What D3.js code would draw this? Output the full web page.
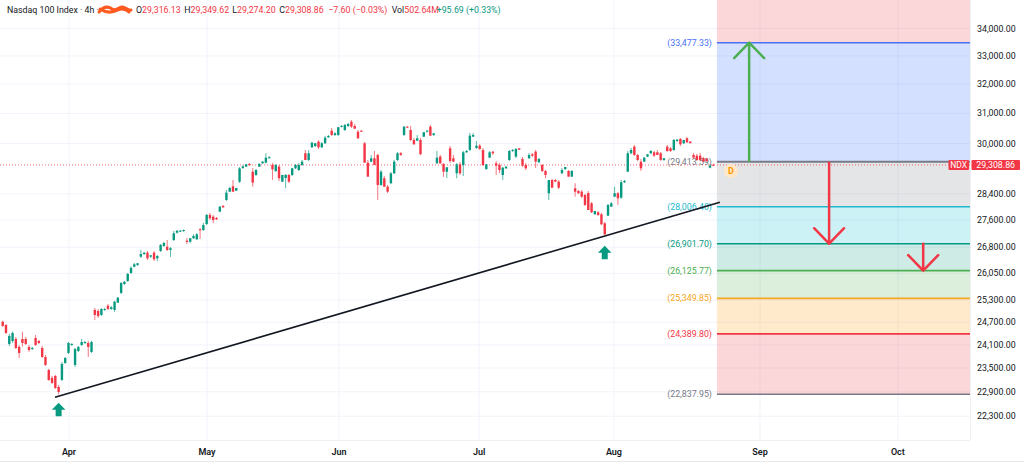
<!DOCTYPE html>
<html><head><meta charset="utf-8">
<script src="https://cdn.jsdelivr.net/npm/d3@7"></script>
<style>
html,body{margin:0;padding:0;background:#fff;}
svg{display:block;font-family:Roboto,"Noto Sans",sans-serif;}
</style></head><body>
<svg id="chart" width="1024" height="470"></svg>
<script>
// ---- candle data (4h bars) ----
const opens = [
24715,24627,24123,24202,24254,24045,24254,24254,24045,23992,
24281,24202,24018,23785,23451,23248,23299,23021,23197,23630,
23888,24097,23579,23940,24097,24149,24149,23914,25032,25005,
24897,25032,25150,25059,25032,25232,25499,25750,25834,26060,
26239,26288,26526,26604,26642,26526,26642,26479,26691,26837,
26816,26720,27012,27227,27257,27278,26992,26962,27062,27032,
27327,27307,27486,27757,27706,27666,27857,28030,28213,28469,
28636,28500,28781,29212,29254,29340,29095,28991,29254,29362,
29382,29542,29308,29117,29254,28781,28897,28991,28991,29202,
29148,29308,29684,29468,29878,29920,30061,29878,30008,30205,
30422,30281,30281,30555,30445,30578,30721,30578,30389,30422,
30008,29382,29414,29522,29629,28678,28887,28625,28731,29043,
29468,29684,30281,30555,30445,30116,30093,30116,30225,30389,
30555,30281,29362,29575,29340,29095,29845,29522,29043,29330,
29308,29716,29790,30225,29855,29930,29790,29180,29542,29736,
29362,29308,28991,29202,29468,29758,29575,29845,29500,29308,
29522,29652,29736,29394,29308,29117,28420,28834,28834,28781,
29043,29180,29117,28939,28575,28491,28469,28368,28429,28112,
27778,27838,27778,27507,27736,28010,28315,28420,28284,28762,
29095,29684,29898,29629,29414,29414,29575,29684,29716,29716,
29684,29468,29898,29845,29790,30084,30149,30008,30172,30061,
29629,29606,29606,29522,29500,29222,29316.13];
const highs = [
24742,24654,24387,24448,24307,24097,24448,24307,24097,24045,
24360,24228,24071,23836,23476,23299,23324,23071,23656,23785,
24175,24149,24018,24071,24254,24202,24202,24202,25086,25059,
25086,25086,25197,25142,25279,25389,25806,25834,26060,26259,
26345,26345,26720,26662,26691,26575,26691,26575,26895,26954,
27012,26808,27278,27307,27307,27322,27071,27071,27180,27219,
27366,27516,27787,27817,27757,27696,28030,28061,28522,28615,
28834,28584,29244,29308,29340,29372,29212,29180,29372,29436,
29683,29597,29372,29340,29308,28991,29022,29022,29212,29340,
29372,29468,29790,29790,30051,30018,30116,30051,30248,30281,
30512,30379,30545,30612,30645,30678,30778,30645,30445,30445,
30051,29468,29629,29758,29661,29148,28960,28678,29085,29468,
29726,29726,30578,30578,30578,30182,30281,30182,30379,30445,
30612,30346,29758,29629,29372,29244,29920,29629,29372,29404,
29758,29790,30346,30346,30084,29986,29855,29340,29758,29758,
29436,29372,29244,29276,29790,29823,29855,29855,29565,29372,
29694,29694,29790,29532,29340,29148,28834,28865,28865,28834,
29212,29244,29148,29148,28731,28522,28522,28399,28491,28152,
27878,27878,27817,27546,28091,28152,28625,28460,28834,28834,
29758,29855,29953,29661,29500,29565,29661,29790,29758,29790,
29726,29532,29953,29888,30149,30149,30182,30116,30215,30084,
29694,29661,29694,29565,29532,29340,29349.62];
const lows = [
24573,24387,24071,24149,23992,23759,24052,24097,23914,23966,
24071,24123,23759,23553,23172,23097,22971,22838,23172,23605,
23862,24071,23528,23914,24071,24123,23785,23888,24761,24815,
24869,25005,25032,25032,24978,25224,25472,25722,25806,26032,
26216,26259,26489,26575,26431,26489,26402,26402,26662,26808,
26691,26517,26983,27204,27248,27248,26895,26925,27042,27012,
27042,27278,27456,27606,27516,27606,27848,27969,28183,28460,
28460,28491,28740,29180,29244,29308,28625,28960,29244,29340,
29362,29516,28834,29085,28803,28772,28575,28740,28960,29180,
29117,29276,29468,29436,29855,29888,29823,29855,29986,30182,
30248,30248,30248,30532,30412,30545,30512,30478,30149,30379,
29372,28929,29404,29308,28213,28647,28615,28429,28709,29022,
29436,29597,30248,30512,30084,29953,30084,29629,30215,30362,
30248,30248,29340,29340,28929,28897,29372,29404,28887,28991,
28960,29694,29758,30215,29823,29790,29276,29148,29532,29629,
28991,29053,28834,29180,29436,29726,29532,29790,29244,29148,
29500,29565,29212,29372,29085,28887,28213,28584,28772,28553,
29022,29148,28929,28929,28315,28399,28275,28030,27908,27817,
27757,27727,27456,27160,27727,27999,28305,28061,28244,28740,
29085,29652,29597,29436,29117,29404,29565,29652,29565,29629,
29436,29436,29726,29726,29758,30051,29920,29986,30018,30018,
29532,29436,29436,29404,29404,29202,29274.20];
const closes = [
24600,24413,24334,24413,24018,23888,24149,24123,23966,24018,
24097,24149,23785,23579,23197,23122,22996,22896,23605,23759,
24149,24123,23992,24045,24175,24175,24045,24175,24897,24869,
25059,25059,25059,25106,25259,25369,25778,25814,26032,26202,
26308,26337,26604,26642,26479,26566,26451,26547,26866,26925,
26720,26770,27210,27286,27286,27307,26954,27062,27130,27180,
27307,27456,27757,27657,27606,27627,28009,27990,28439,28584,
28469,28584,29202,29263,29330,29298,28750,29148,29340,29414,
29542,29555,29170,29308,28887,28991,28991,28781,29202,29308,
29308,29414,29468,29684,30028,30008,29878,30008,30192,30248,
30281,30335,30535,30578,30612,30645,30555,30489,30172,30402,
29382,28939,29522,29308,28678,29095,28625,28469,29043,29414,
29684,29629,30555,30522,30116,29976,30172,29652,30369,30422,
30258,30335,29542,29362,29095,29234,29436,29414,29330,29043,
29716,29758,30258,30281,29930,29823,29308,29330,29716,29684,
29286,29148,29222,29254,29758,29790,29823,29801,29286,29202,
29629,29606,29414,29500,29117,28991,28834,28593,28781,28593,
29148,29244,28939,29117,28469,28420,28315,28061,27908,27838,
27878,27757,27477,27180,28061,28112,28420,28265,28762,28803,
29684,29790,29629,29468,29202,29542,29652,29758,29606,29629,
29468,29522,29758,29758,30116,30126,29976,30116,30041,30008,
29542,29468,29468,29414,29436,29286,29308.86];

// ---- axes ----
const monthLabels = ["Apr","May","Jun","Jul","Aug","Sep","Oct"];
const monthBars   = [20.15, 62.1, 102.2, 144.8, 185.8, 230.2, 272.1];
const priceTicks  = [34000,33000,32000,31000,30000,28400,27600,26800,26050,25300,24700,24100,23500,22900,22300];

// ---- fibonacci levels ----
const fibLevels     = [35989.23, 33477.33, 29413.59, 28006.40, 26901.70, 26125.77, 25349.85, 24389.80, 22837.95];
const fibLineColors = ["#f23645","#4a72f5","#787b86","#22b8cc","#089981","#4caf50","#f5a623","#f23645","#787b86"];
const fibFillColors = ["rgba(242,54,69,0.2)","rgba(41,98,255,0.2)","rgba(120,123,134,0.2)","rgba(0,188,212,0.2)",
                       "rgba(8,153,129,0.2)","rgba(76,175,80,0.2)","rgba(255,152,0,0.2)","rgba(242,54,69,0.2)"];
const fibStartBar = 217.1;

// ---- annotations ----
const trendBars   = [15.9, 218];
const trendPrices = [22764, 28143];
const arrowBars   = [226.9, 251.2, 279.8];
const arrowFrom   = [29413.59, 29413.59, 26933];
const arrowTo     = [33477.33, 26901.70, 26125.77];
const arrowColors = ["#4caf50", "#f23645", "#f23645"];
const markerBars   = [17, 183];
const markerPrices = [22631, 26844];
const lastPrice = 29308.86;
const symbol = "NDX";

const header = [
  {t:"Nasdaq 100 Index · 4h ·", c:"#131722", x:7},
  {t:"O", c:"#131722", x:136}, {t:"29,316.13", c:"#f23645"},
  {t:"H", c:"#131722", x:184.3}, {t:"29,349.62", c:"#f23645"},
  {t:"L", c:"#131722", x:232.3}, {t:"29,274.20", c:"#f23645"},
  {t:"C", c:"#131722", x:279.3}, {t:"29,308.86", c:"#f23645"},
  {t:"−7.60 (−0.03%)", c:"#f23645", x:328.3},
  {t:"Vol", c:"#131722", x:391.7}, {t:"502.64M", c:"#f23645"},
  {t:"+95.69 (+0.33%)", c:"#089981", x:436.7}
];

// ---- drawing ----
const W = 1024, plotR = 970, plotB = 440;
const svg = d3.select("#chart");
const x = d3.scaleLinear().domain([0, 216]).range([2.7, 713.3]);
const y = d3.scaleLog().domain([22837.95, 33477.33]).range([394.3, 42.7]);
const fmt = d3.format(",.2f");
const up = "#089981", dn = "#f23645";

svg.append("defs").append("clipPath").attr("id","plot")
  .append("rect").attr("x",0).attr("y",0).attr("width",plotR).attr("height",plotB);

const g = svg.append("g").attr("clip-path","url(#plot)");

// grid
g.selectAll(".hg").data(priceTicks).join("line")
  .attr("x1",0).attr("x2",plotR).attr("y1",d=>y(d)).attr("y2",d=>y(d))
  .attr("stroke","#f0f3fa").attr("stroke-width",1);
g.selectAll(".vg").data(monthBars).join("line")
  .attr("x1",d=>x(d)).attr("x2",d=>x(d)).attr("y1",0).attr("y2",plotB)
  .attr("stroke","#f0f3fa").attr("stroke-width",1);

// fib zones
const fx0 = x(fibStartBar);
const zones = d3.range(fibLevels.length-1);
g.selectAll(".fz").data(zones).join("rect")
  .attr("x",fx0).attr("width",plotR-fx0)
  .attr("y",i=>Math.max(0,y(fibLevels[i]))).attr("height",i=>y(fibLevels[i+1])-Math.max(0,y(fibLevels[i])))
  .attr("fill",i=>fibFillColors[i]);
const visibleFib = fibLevels.map((d,i)=>({d,i})).filter(o=>y(o.d) > 0 && y(o.d) < plotB);
g.selectAll(".fl").data(visibleFib).join("line")
  .attr("x1",fx0).attr("x2",plotR).attr("y1",o=>y(o.d)).attr("y2",o=>y(o.d))
  .attr("stroke",o=>fibLineColors[o.i]).attr("stroke-width",o=>o.i===2?2:1.6);
g.selectAll(".ft").data(visibleFib).join("text")
  .attr("x",fx0-5).attr("y",o=>y(o.d)).attr("dy","0.35em")
  .attr("text-anchor","end").attr("font-size",8.8)
  .attr("fill",o=>fibLineColors[o.i]).text(o=>"("+fmt(o.d)+")");

// last price dotted line
g.append("line").attr("x1",0).attr("x2",plotR).attr("y1",y(lastPrice)).attr("y2",y(lastPrice))
  .attr("stroke","#f23645").attr("stroke-width",1).attr("stroke-dasharray","1,2").attr("opacity",0.75);

// trendline
g.append("line")
  .attr("x1",x(trendBars[0])).attr("y1",y(trendPrices[0]))
  .attr("x2",x(trendBars[1])).attr("y2",y(trendPrices[1]))
  .attr("stroke","#131722").attr("stroke-width",1.6);

// candles
const idx = d3.range(opens.length);
const col = i => closes[i] >= opens[i] ? up : dn;
g.selectAll(".wick").data(idx).join("line")
  .attr("x1",i=>x(i)).attr("x2",i=>x(i))
  .attr("y1",i=>y(highs[i])).attr("y2",i=>y(lows[i]))
  .attr("stroke",col).attr("stroke-width",0.9).attr("opacity",0.75);
g.selectAll(".body").data(idx).join("rect")
  .attr("x",i=>x(i)-1.2).attr("width",2.4)
  .attr("y",i=>y(Math.max(opens[i],closes[i])))
  .attr("height",i=>Math.max(1,y(Math.min(opens[i],closes[i]))-y(Math.max(opens[i],closes[i]))))
  .attr("fill",col);

// up markers
markerBars.forEach((b,k)=>{
  const cx = x(b), ty = y(markerPrices[k]);
  g.append("path")
    .attr("d",`M${cx},${ty} L${cx+6.8},${ty+7} L${cx+3},${ty+7} L${cx+3},${ty+13.5} L${cx-3},${ty+13.5} L${cx-3},${ty+7} L${cx-6.8},${ty+7} Z`)
    .attr("fill","#089981");
});

// big arrows
arrowBars.forEach((b,k)=>{
  const ax = x(b), y0 = y(arrowFrom[k]), y1 = y(arrowTo[k]);
  const dir = y1 < y0 ? 1 : -1;
  g.append("line").attr("x1",ax).attr("x2",ax).attr("y1",y0).attr("y2",y1)
    .attr("stroke",arrowColors[k]).attr("stroke-width",2.5);
  g.append("path").attr("d",`M${ax-15},${y1+dir*15.5} L${ax},${y1} L${ax+15},${y1+dir*15.5}`)
    .attr("fill","none").attr("stroke",arrowColors[k]).attr("stroke-width",2.5)
    .attr("stroke-linecap","round").attr("stroke-linejoin","round");
});

// dividend marker "D"
const dg = g.append("g").attr("transform",`translate(${x(fibStartBar)+14},${y(lastPrice)+6})`);
dg.append("circle").attr("r",7).attr("fill","#ffe7c8");
dg.append("text").attr("text-anchor","middle").attr("dy","0.36em").attr("font-size",9)
  .attr("font-weight",700).attr("fill","#ff9800").text("D");

// frame lines
svg.append("line").attr("x1",0).attr("x2",plotR).attr("y1",plotB+0.5).attr("y2",plotB+0.5).attr("stroke","#eef0f3");
svg.append("line").attr("x1",plotR+0.5).attr("x2",plotR+0.5).attr("y1",0).attr("y2",plotB).attr("stroke","#eef0f3");
svg.append("line").attr("x1",0).attr("x2",W).attr("y1",461.5).attr("y2",461.5).attr("stroke","#e6e8ec");

// right price axis
svg.selectAll(".yl").data(priceTicks).join("text")
  .attr("x",977).attr("y",d=>y(d)).attr("dy","0.35em")
  .attr("font-size",8.8).attr("fill","#131722").text(d=>fmt(d));

// last price labels
const ly = y(lastPrice);
svg.append("rect").attr("x",948.5).attr("y",ly-5).attr("width",20.5).attr("height",10).attr("rx",1).attr("fill","#f23645");
svg.append("text").attr("x",958.7).attr("y",ly).attr("dy","0.35em").attr("text-anchor","middle")
  .attr("font-size",8.5).attr("fill","#fff").text(symbol);
svg.append("rect").attr("x",971.5).attr("y",ly-5).attr("width",48.5).attr("height",10).attr("rx",1).attr("fill","#f23645");
svg.append("text").attr("x",995.7).attr("y",ly).attr("dy","0.35em").attr("text-anchor","middle")
  .attr("font-size",8.8).attr("fill","#fff").text(fmt(lastPrice));

// time axis
svg.selectAll(".xl").data(monthBars).join("text")
  .attr("x",d=>x(d)).attr("y",452).attr("dy","0.35em").attr("text-anchor","middle")
  .attr("font-size",9).attr("font-weight",600).attr("fill","#131722")
  .text((d,i)=>monthLabels[i]);

// header
const ht = svg.append("text").attr("y",10).attr("dy","0.35em").attr("font-size",8.8);
header.forEach(h=>{
  const ts = ht.append("tspan").attr("fill",h.c).text(h.t);
  if (h.x !== undefined) ts.attr("x",h.x);
});
// redaction scribble
svg.append("path")
  .attr("d","M99,12 C104,6 108,6 112,9 C116,12 118,7 122,7 C126,7 128,11 131,10 M100,9 C106,13 112,13 118,10 C122,8 126,9 129,12")
  .attr("fill","none").attr("stroke","#ff5a1f").attr("stroke-width",3).attr("stroke-linecap","round");
</script>
</body></html>
